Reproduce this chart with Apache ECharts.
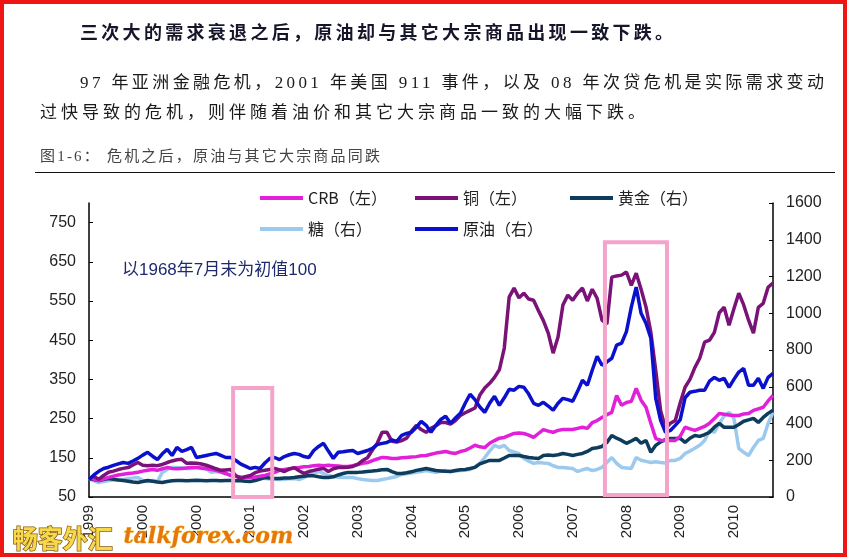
<!DOCTYPE html>
<html><head><meta charset="utf-8">
<script src="https://cdn.jsdelivr.net/npm/echarts@6/dist/echarts.min.js"></script>
<style>
html,body{margin:0;padding:0;background:#fff;}
#wrap{position:relative;width:847px;height:557px;overflow:hidden;background:#fff;}
#chart{position:absolute;left:0;top:0;width:847px;height:557px;}
.t{position:absolute;white-space:nowrap;font-family:"Liberation Serif","Noto Sans CJK SC",serif;color:#1a1a1a;line-height:1;}
#rule{position:absolute;left:35px;top:172px;width:800px;height:0;border-top:1.5px solid #111;}
</style></head><body>
<div id="wrap">
<div id="chart"></div>
<div class="t" style="left:80px;top:24px;font-size:18px;font-weight:bold;letter-spacing:3.3px;color:#16162a;">三次大的需求衰退之后，原油却与其它大宗商品出现一致下跌。</div>
<div class="t" style="left:80px;top:74px;font-size:17px;letter-spacing:3.4px;">97 年亚洲金融危机，2001 年美国 911 事件，以及 08 年次贷危机是实际需求变动</div>
<div class="t" style="left:40px;top:104px;font-size:17px;letter-spacing:4px;">过快导致的危机，则伴随着油价和其它大宗商品一致的大幅下跌。</div>
<div class="t" style="left:40px;top:149px;font-size:15px;letter-spacing:2.2px;color:#444;">图1-6： 危机之后，原油与其它大宗商品同跌</div>
<div id="rule"></div>
</div>
<script>
// ---- data ----
const startYear = 1999, startMonth = 2, monthCount = 141;
const months = [];
for (let k = 0; k < monthCount; k++) {
  const m = startMonth - 1 + k;
  months.push((startYear + Math.floor(m / 12)) + '-' + String(m % 12 + 1).padStart(2, '0'));
}
const leftTicks = [50, 150, 250, 350, 450, 550, 650, 750];
const rightTicks = [0, 200, 400, 600, 800, 1000, 1200, 1400, 1600];

const crb = [100,96,92,96,100,103,106,108,110,111,
113,116,118,120,118,122,125,123,122,123,
124,125,125,124,122,120,118,114,110,105,
103,101,100,100,101,103,105,109,113,118,
120,122,124,125,127,128,130,131,130,131,
130,129,128,128,130,133,136,138,143,147,
151,150,148,148,150,151,152,153,155,156,
159,162,164,166,163,161,166,169,175,182,
178,176,187,194,200,202,207,212,213,212,
208,202,212,222,218,215,220,222,222,222,
225,228,225,240,245,253,260,266,309,284,
291,294,327,297,279,238,199,195,194,194,
194,205,228,224,220,225,230,238,250,263,
261,259,258,258,262,263,271,275,279,295,
309];
const copper = [97,103,95,105,113,116,120,123,125,132,
138,131,130,131,130,133,138,142,145,146,
136,137,136,134,131,127,122,118,119,120,
105,97,102,105,112,116,118,120,123,119,
115,121,125,117,110,115,118,121,123,115,
122,125,125,126,128,133,143,150,170,187,
215,215,192,190,194,200,218,233,222,215,
225,232,240,240,236,245,258,265,271,277,
310,328,340,355,375,430,560,583,558,570,
555,552,525,500,468,417,458,540,565,552,
570,583,550,580,557,501,491,611,614,616,
624,590,621,580,535,470,373,270,225,238,
245,290,330,350,380,404,445,450,470,520,
534,488,530,570,540,501,468,534,544,585,
596];
const gold = [101,95,90,95,101,96,92,90,86,82,
79,84,90,86,82,79,84,88,90,90,
89,90,91,90,89,90,90,89,90,90,
89,88,86,84,90,98,106,103,101,101,
103,104,106,110,113,117,115,110,106,106,
110,120,128,134,134,134,136,139,141,144,
148,150,138,128,128,132,137,145,150,155,
150,144,142,140,139,144,148,150,155,161,
180,190,199,199,199,212,226,226,226,220,
215,212,210,226,228,226,230,237,232,226,
232,237,248,264,268,275,297,335,320,308,
292,305,319,292,308,243,281,300,312,319,
318,319,297,320,335,330,340,352,380,401,
379,379,379,395,412,420,428,406,433,455,
472];
const sugar = [101,88,79,84,90,92,94,95,101,103,
106,90,84,90,84,134,150,161,161,158,
155,155,161,155,155,134,139,134,125,117,
112,108,106,106,106,103,101,98,96,95,
97,99,101,95,106,117,128,139,128,117,
112,108,106,106,106,100,95,92,90,90,
95,100,106,112,123,126,130,134,138,144,
139,134,140,144,139,141,144,147,150,165,
183,215,250,281,270,281,253,245,237,210,
195,183,188,185,183,170,161,161,158,155,
139,148,155,144,150,161,188,215,183,161,
158,155,215,200,194,188,192,188,185,199,
199,210,237,250,265,281,308,362,352,400,
440,461,428,264,243,226,270,308,319,400,
461];
const oil = [95,120,140,155,162,172,180,188,183,196,
210,228,243,222,204,235,259,226,270,248,
258,270,215,220,226,232,237,226,215,215,
200,180,168,155,161,155,185,210,215,204,
220,230,237,232,220,215,253,275,292,250,
210,243,246,250,253,237,245,253,265,285,
292,297,310,303,335,346,352,380,412,390,
352,390,422,439,401,430,455,510,559,530,
490,461,510,548,499,540,586,581,602,597,
560,510,499,515,495,472,510,537,530,521,
575,635,608,690,766,717,735,755,826,837,
900,1033,1142,1000,946,864,537,417,352,362,
390,420,540,570,575,581,581,630,651,635,
646,597,640,680,700,608,608,646,591,651,
673];

// crisis boxes: [startIndex, endIndex, topValue(left axis), bottomValue(left axis)]
const boxes = [[29.5, 37.5, 328, 50], [105.6, 118.3, 700, 55]];

const names = ['CRB（左）', '铜（左）', '黄金（右）', '糖（右）', '原油（右）'];
const colors = ['#E21FD9', '#7A1277', '#0E3C5C', '#9CCAEE', '#0A10CC'];

const chart = echarts.init(document.getElementById('chart'), null, {renderer: 'canvas'});
const legendBase = {icon: 'rect', itemWidth: 43, itemHeight: 4, padding: 0, itemGap: 4,
  textStyle: {fontSize: 16, color: '#222', fontFamily: 'Noto Sans CJK SC'}, selectedMode: false};
const mkSeries = (name, data, axis, color, z) => ({
  name, type: 'line', data, yAxisIndex: axis, showSymbol: false, symbol: 'none', z,
  lineStyle: {width: 3.5, color}, itemStyle: {color}, animation: false
});
chart.setOption({
  animation: false,
  backgroundColor: '#fff',
  grid: {left: 89, right: 74, top: 203, bottom: 60},
  legend: [
    Object.assign({data: [names[0]], left: 260, top: 190}, legendBase),
    Object.assign({data: [names[1]], left: 415, top: 190}, legendBase),
    Object.assign({data: [names[2]], left: 570, top: 190}, legendBase),
    Object.assign({data: [names[3]], left: 260, top: 221}, legendBase),
    Object.assign({data: [names[4]], left: 415, top: 221}, legendBase)
  ],
  xAxis: {
    type: 'category', data: months, boundaryGap: false,
    axisLine: {lineStyle: {color: '#000', width: 1.5}},
    axisTick: {show: false},
    axisLabel: {interval: 10, rotate: 90, formatter: v => v.slice(0, 4), fontSize: 15,
      color: '#222', fontFamily: 'Liberation Sans, Arial', margin: 8},
    splitLine: {show: false}
  },
  yAxis: [
    {type: 'value', min: 50, max: 800, position: 'left',
     axisLine: {show: true, lineStyle: {color: '#000', width: 1.5}},
     axisTick: {show: true, inside: true, length: 4, customValues: leftTicks, lineStyle: {color: '#000'}},
     axisLabel: {customValues: leftTicks, fontSize: 16, color: '#222', margin: 13, fontFamily: 'Liberation Sans, Arial',
       formatter: v => String(v)},
     splitLine: {show: false}},
    {type: 'value', min: 0, max: 1600, position: 'right',
     axisLine: {show: true, lineStyle: {color: '#000', width: 1.5}},
     axisTick: {show: true, inside: true, length: 4, customValues: rightTicks, lineStyle: {color: '#000'}},
     axisLabel: {customValues: rightTicks, fontSize: 16, color: '#222', margin: 13, fontFamily: 'Liberation Sans, Arial',
       formatter: v => String(v)},
     splitLine: {show: false}}
  ],
  series: [
    mkSeries(names[3], sugar, 1, colors[3], 2),
    mkSeries(names[2], gold, 1, colors[2], 3),
    mkSeries(names[0], crb, 0, colors[0], 4),
    mkSeries(names[1], copper, 0, colors[1], 5),
    mkSeries(names[4], oil, 1, colors[4], 6)
  ]
});

// boxes positioned through the chart's own scales
function px(idx, val) {
  const lo = Math.floor(idx), hi = Math.ceil(idx), f = idx - lo;
  const a = chart.convertToPixel({xAxisIndex: 0, yAxisIndex: 0}, [lo, val]);
  const b = chart.convertToPixel({xAxisIndex: 0, yAxisIndex: 0}, [hi, val]);
  return [a[0] + (b[0] - a[0]) * f, a[1]];
}
const graphics = boxes.map(b => {
  const p1 = px(b[0], b[2]), p2 = px(b[1], b[3]);
  return {type: 'rect', z: 100, silent: true,
    shape: {x: p1[0], y: p1[1], width: p2[0] - p1[0], height: p2[1] - p1[1]},
    style: {fill: 'none', stroke: '#F4A3CB', lineWidth: 4}};
});
graphics.push({type: 'text', left: 122, top: 262, z: 100,
  style: {text: '以1968年7月末为初值100', fontSize: 17, fill: '#1f2a6e', fontFamily: 'Liberation Sans, Noto Sans CJK SC'}});
graphics.push({type: 'text', left: 12, top: 525, z: 110,
  style: {text: '畅客外汇', fontSize: 25, fontWeight: 'bold', fill: '#F6D84A', stroke: '#8a5a10', lineWidth: 1.5, fontFamily: 'Noto Sans CJK SC'}});
graphics.push({type: 'text', left: 123, top: 526, z: 110,
  style: {text: 'talkforex.com', fontSize: 22, fontWeight: 'bold', fontStyle: 'italic', fill: '#E8760E', stroke: '#f7d24a', lineWidth: 0.8, fontFamily: 'DejaVu Serif'}});
graphics.push({type: 'rect', z: 120, silent: true, shape: {x: 2, y: 2, width: 843, height: 553},
  style: {fill: 'none', stroke: '#EE1515', lineWidth: 4}});
chart.setOption({graphic: graphics});
</script>
</body></html>
